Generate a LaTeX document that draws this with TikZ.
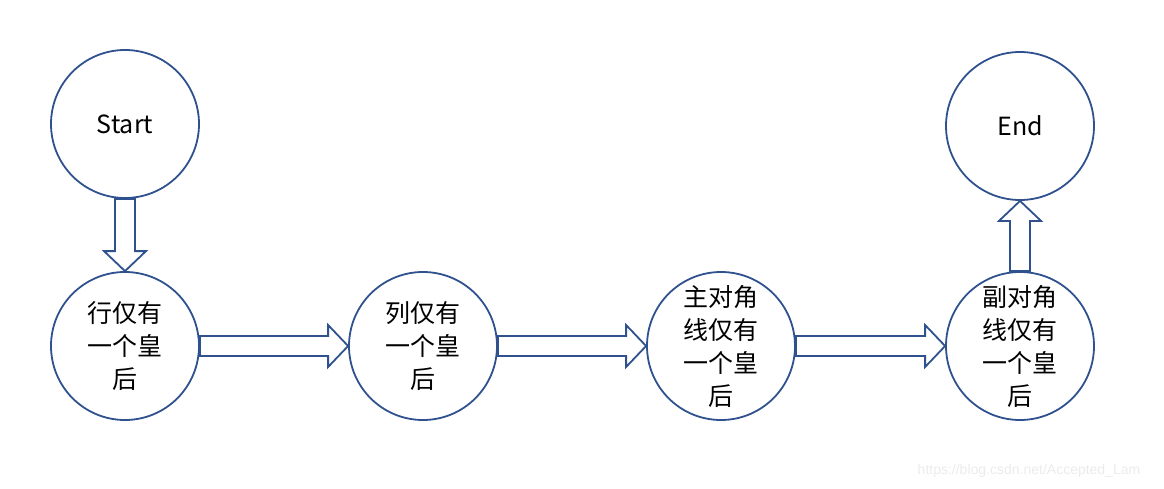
\documentclass[tikz,border=0pt]{standalone}
\usepackage{fontspec}
\newfontfamily\cjk{Noto Sans CJK SC}
\newfontfamily\wmfont{Liberation Sans}
\usetikzlibrary{calc,positioning}
\definecolor{officeblue}{RGB}{47,82,143}
\tikzset{state/.style={circle,draw=officeblue,line width=1.8pt,minimum size=148pt,inner sep=0pt,align=center,font=\cjk\fontsize{25}{33}\selectfont},
hollow/.style={draw=officeblue,line width=1.8pt,fill=white,line join=miter}}
% hollow block arrow from node #1 to node #2
\newcommand{\blockarrow}[2]{%
\path ($(#2)!20pt!(#1)$) coordinate (hd);
\draw[hollow] ($(#1)!10pt!90:(#2)$)--($(hd)!10pt!90:(#2)$)--($(hd)!21pt!90:(#2)$)--(#2)
--($(hd)!21pt!-90:(#2)$)--($(hd)!10pt!-90:(#2)$)--($(#1)!10pt!-90:(#2)$)--cycle;}

\begin{document}
\begin{tikzpicture}[on grid,node distance=298pt]
\useasboundingbox (0,0) rectangle (1164pt,-489pt);
\node[state] (r1) at (125pt,-346pt){行仅有\\一个皇\\后};
\node[state] (r2) [right=of r1]{列仅有\\一个皇\\后};
\node[state] (r3) [right=of r2]{主对角\\线仅有\\一个皇\\后};
\node[state] (r4) [right=299pt of r3]{副对角\\线仅有\\一个皇\\后};
\node[state] (start) [above=222pt of r1]{Start};
\node[state] (end) [above=220pt of r4]{End};
\blockarrow{start.south}{r1.north}
\blockarrow{r1.east}{r2.west}
\blockarrow{r2.east}{r3.west}
\blockarrow{r3.east}{r4.west}
\blockarrow{r4.north}{end.south}
\node[text=black!8,font=\wmfont\fontsize{14}{16}\selectfont] (wm) at (1029pt,-471pt){https://blog.csdn.net/Accepted\_Lam};
\end{tikzpicture}
\end{document}
